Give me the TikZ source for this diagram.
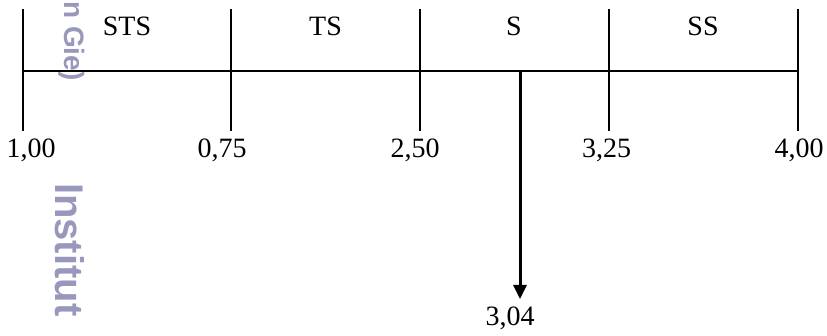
\documentclass[tikz,border=0pt]{standalone}
\usepackage{fontspec}
\setmainfont{Liberation Serif}
\newfontfamily\wmfont{Liberation Sans}
\usetikzlibrary{arrows.meta,positioning}
\definecolor{InkBlack}{HTML}{000000}
\definecolor{WaterLilac}{RGB}{152,152,188}

\begin{document}
\begin{tikzpicture}[x=1pt,y=-1pt, every node/.style={font=\fontsize{28}{30}\selectfont},
lbl/.style={anchor=base,inner sep=0pt},
wm/.style={rotate=-90,inner sep=0pt,text=WaterLilac},
scalemark/.style={line width=2.4pt,InkBlack},
arr/.style={-{Triangle[length=14pt,width=13pt]},line width=3pt,InkBlack}]
\useasboundingbox (0,0) rectangle (827,336);
% watermark
\node[wm,anchor=base west,font=\wmfont\bfseries\fontsize{28}{30}\selectfont] (wmtop) at (64,1) {n Gie)};
\node[wm,anchor=base west,font=\wmfont\bfseries\fontsize{40}{42}\selectfont] (wmbot) at (55,183) {Institut};
% scale
\coordinate (L) at (22.7,71);
\coordinate (R) at (797.7,71);
\coordinate (t1) at (22.7,9);  \coordinate (b1) at (22.7,131);
\coordinate (t2) at (231,9);   \coordinate (b2) at (231,131);
\coordinate (t3) at (420,9);   \coordinate (b3) at (420,131);
\coordinate (t4) at (608.7,9); \coordinate (b4) at (608.7,131);
\coordinate (t5) at (797.7,9); \coordinate (b5) at (797.7,131);
\draw[scalemark] (L) -- (R);
\draw[scalemark] (t1) -- (b1);
\draw[scalemark] (t2) -- (b2);
\draw[scalemark] (t3) -- (b3);
\draw[scalemark] (t4) -- (b4);
\draw[scalemark] (t5) -- (b5);
\node[lbl] (sts) at (127,36) {STS};
\node[lbl] (ts) at (325.5,36) {TS};
\node[lbl] (s) at (514,36) {S};
\node[lbl] (ss) at (703,36) {SS};
\node[lbl] (v100) at (31,158) {1,00};
\node[lbl] (v075) at (222,158) {0,75};
\node[lbl] (v250) at (415,158) {2,50};
\node[lbl] (v325) at (606.5,158) {3,25};
\node[lbl] (v400) at (799,158) {4,00};
% result
\coordinate (mark) at (520,71);
\coordinate (tip) at (520,299);
\draw[arr] (mark) -- (tip);
\node[lbl] (res) at (510,326) {3,04};
\end{tikzpicture}
\end{document}
